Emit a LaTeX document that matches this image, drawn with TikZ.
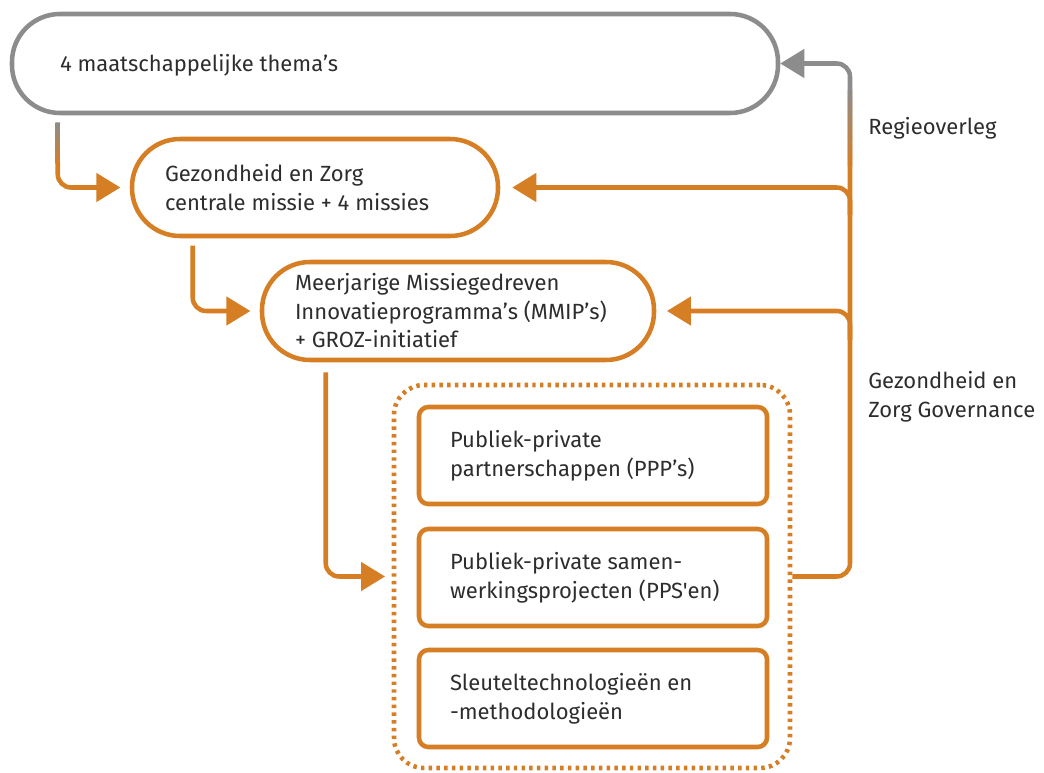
\documentclass[tikz,border=0pt]{standalone}
\usepackage{fontspec}
\setmainfont{Fira Sans}[Ligatures=TeXOff]
\usetikzlibrary{arrows.meta,calc}
\definecolor{orng}{RGB}{214,126,36}
\definecolor{gry}{RGB}{140,140,140}
\definecolor{txt}{RGB}{45,45,45}
\tikzset{
  lbl/.style={font=\fontsize{16.5}{21.4}\selectfont, text=txt, align=left, inner sep=0pt},
  stadium/.style={draw=orng, line width=3.4pt, rounded corners=36pt},
  innerbox/.style={draw=orng, line width=3.4pt, rounded corners=7pt, minimum width=261pt, minimum height=72.75pt},
  conn/.style={draw=orng, line width=3.4pt, rounded corners=10pt},
  tip/.style={-{Triangle[length=18pt,width=21pt]}},
  grad/.style={line width=3.4pt, line cap=butt},
}
\begin{document}
\begin{tikzpicture}[x=0.75pt,y=-0.75pt]
\useasboundingbox (0,0) rectangle (1044,773);
% boxes
\node[stadium, draw=gry, minimum width=574.5pt, minimum height=74.25pt] (top) at (395,63.5) {};
\node[lbl, anchor=west] (ttop) at ([xshift=37.5pt,yshift=-1pt]top.west) {4 maatschappelijke thema’s};
\node[stadium, minimum width=274.5pt, minimum height=72.75pt] (box2) at (315,187.5) {};
\node[lbl, anchor=west] (t2) at ([xshift=26.25pt]box2.west) {Gezondheid en Zorg\\centrale missie + 4 missies};
\node[stadium, minimum width=294pt, minimum height=73.5pt] (box3) at (458,311) {};
\node[lbl, anchor=west] (t3) at ([xshift=26.25pt]box3.west) {Meerjarige Missiegedreven\\Innovatieprogramma’s (MMIP’s)\\+ GROZ-initiatief};
\node[draw=orng, line width=3.4pt, dash pattern=on 2.6pt off 3.2pt, rounded corners=22.5pt, minimum width=297pt, minimum height=287.25pt] (dotted) at (592,576.5) {};
\node[innerbox] (ba) at (593,455.5) {};
\node[lbl, anchor=west] (ta) at ([xshift=24.75pt]ba.west) {Publiek-private\\partnerschappen (PPP’s)};
\node[innerbox] (bb) at (593,577.5) {};
\node[lbl, anchor=west] (tb) at ([xshift=24.75pt]bb.west) {Publiek-private samen-\\werkingsprojecten (PPS'en)};
\node[innerbox] (bc) at (593,698.5) {};
\node[lbl, anchor=west] (tc) at ([xshift=24.75pt]bc.west) {Sleuteltechnologieën en\\-methodologieën};
% side labels
\node[lbl, anchor=west] (regie) at (868,128) {Regieoverleg};
\node[lbl, anchor=west] (gov) at (868,397) {Gezondheid en\\Zorg Governance};
% coordinates
\coordinate (c1top) at ([xshift=36pt,yshift=-5.25pt]top.south west);
\coordinate (c1mid) at ([xshift=36pt,yshift=-36pt]top.south west);
\coordinate (trunkA) at (850,165);
\coordinate (trunkB) at (850,88);
\coordinate (trunk2) at (850,215);
\coordinate (trunk3) at (850,340);
% connector 1: top -> box2 (gray to orange)
\foreach \i in {0,...,39}{
  \pgfmathsetmacro\p{\i*2.5}
  \draw[grad, draw=orng!\p!gry] ($(c1top)!\i/40!(c1mid)$) -- ($(c1top)!\i/40+0.04!(c1mid)$);
}
\draw[conn, tip, shorten >=7pt] (c1mid) |- (box2.west);
% connector 2: box2 -> box3
\draw[conn, tip, shorten >=7pt] ([xshift=47.25pt,yshift=-5.5pt]box2.south west) |- (box3.west);
% connector 3: box3 -> dotted group
\draw[conn, tip, shorten >=5pt] ([xshift=49.5pt,yshift=-7.5pt]box3.south west) |- (dotted.west);
% trunk on right
\draw[conn] (dotted.east) -| (trunkA);
\foreach \i in {0,...,39}{
  \pgfmathsetmacro\p{\i*2.5}
  \draw[grad, draw=orng!\p!gry] ($(trunkB)!\i/40!(trunkA)$) -- ($(trunkB)!\i/40+0.04!(trunkA)$);
}
\draw[conn, draw=gry, -{Triangle[length=18pt,width=21pt,fill=gry]}] (trunkB) |- (top.east);
% branches
\draw[conn, tip, shorten >=9pt] (trunk2) |- (box2.east);
\draw[conn, tip, shorten >=8pt] (trunk3) |- (box3.east);
\end{tikzpicture}
\end{document}
